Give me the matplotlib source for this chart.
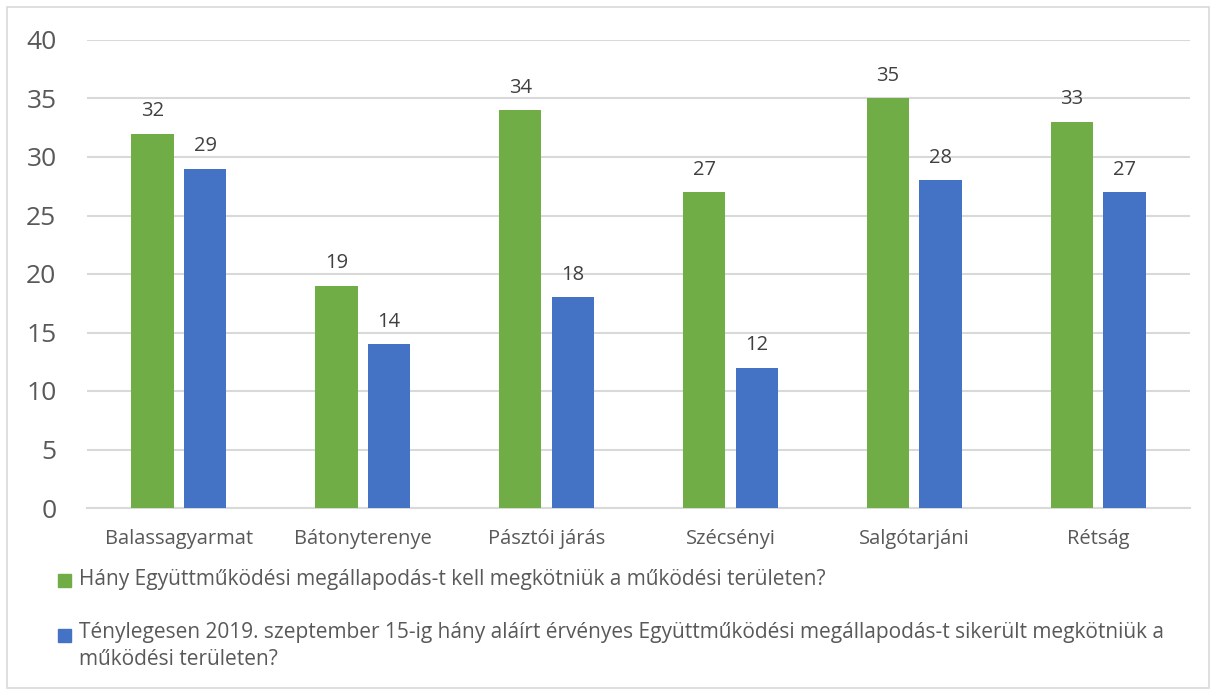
import matplotlib.pyplot as plt
import numpy as np
from matplotlib.patches import Rectangle

categories = ["Balassagyarmat", "Bátonyterenye", "Pásztói járás", "Szécsényi", "Salgótarjáni", "Rétság"]
required = [32, 19, 34, 27, 35, 33]
signed = [29, 14, 18, 12, 28, 27]
labels = [
    "Hány Együttműködési megállapodás-t kell megkötniük a működési területen?",
    "Ténylegesen 2019. szeptember 15-ig hány aláírt érvényes Együttműködési megállapodás-t sikerült megkötniük a\nműködési területen?",
]

green = "#70AD47"
blue = "#4472C4"
text_c = "#595959"
grid_c = "#D9D9D9"

plt.rcParams["font.family"] = ["Open Sans", "DejaVu Sans"]

W, H = 1216, 695
fig = plt.figure(figsize=(W / 100, H / 100), dpi=100)
ax = fig.add_axes([87 / W, 1 - 508 / H, (1190 - 87) / W, (508 - 40) / H])

x = np.arange(len(categories))
bw = 0.23
off = 0.143
b1 = ax.bar(x - off, required, bw, color=green, zorder=3)
b2 = ax.bar(x + off, signed, bw, color=blue, zorder=3)

for bars in (b1, b2):
    for b in bars:
        ax.annotate(str(int(b.get_height())), (b.get_x() + b.get_width() / 2, b.get_height()),
                    xytext=(0, 9), textcoords="offset points", ha="center", va="bottom",
                    fontsize=14.5, color="#404040")

ax.set_xlim(-0.5, len(categories) - 0.5)
ax.set_ylim(0, 40)
ax.set_yticks(range(0, 41, 5))
ax.yaxis.grid(True, color=grid_c, linewidth=1.5, zorder=0)
ax.set_axisbelow(True)
for s in ["top", "right", "left"]:
    ax.spines[s].set_visible(False)
ax.spines["bottom"].set_color(grid_c)
ax.spines["bottom"].set_linewidth(1.5)
ax.set_xticks(x)
ax.set_xticklabels(categories, fontsize=14.5, color=text_c)
ax.tick_params(axis="x", length=0, pad=15)
ax.tick_params(axis="y", length=0, pad=22, labelsize=19, labelcolor=text_c)

# legend drawn by hand
fig.patches.append(Rectangle((58 / W, 1 - 587 / H), 13 / W, 13 / H, transform=fig.transFigure, color=green))
fig.text(79 / W, 1 - 580 / H, labels[0], fontsize=15, color=text_c, va="center", ha="left")
fig.patches.append(Rectangle((58 / W, 1 - 642 / H), 13 / W, 13 / H, transform=fig.transFigure, color=blue))
fig.text(79 / W, 1 - 622 / H, labels[1], fontsize=15, color=text_c, va="top", ha="left", linespacing=1.4)

# chart border
fig.patches.append(Rectangle((7 / W, 7 / H), 1202 / W, 681 / H, transform=fig.transFigure,
                             fill=False, edgecolor=grid_c, linewidth=1.2))

fig.savefig("out.png", dpi=100)
